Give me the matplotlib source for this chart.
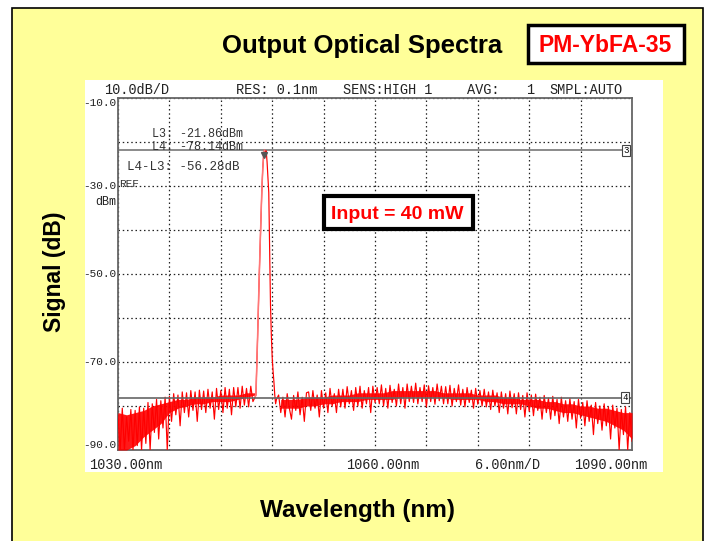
import numpy as np
import matplotlib
matplotlib.use("Agg")
import matplotlib.pyplot as plt
from matplotlib.patches import Rectangle

# =============================================================================
# DATA
# =============================================================================

# noise trace left of the signal peak, 1030.00 .. 1045.75 nm, 0.25 nm step
NOISE_LEFT_DB = [
    -82.0, -90.0, -80.5, -90.0, -82.5, -88.0, -80.8, -90.0, -81.0, -89.0, -80.2, -90.0,
    -80.5, -88.5, -79.2, -90.0, -79.5, -86.0, -78.5, -87.5, -78.8, -85.0, -78.0, -90.0,
    -77.8, -83.5, -77.2, -82.0, -77.5, -84.5, -76.8, -81.5, -77.0, -82.5, -76.5, -81.0, -76.8, -83.5, -76.4, -80.8,
    -76.6, -81.5, -76.2, -80.5, -76.8, -83.0, -76.0, -80.8, -76.5, -81.5, -75.8, -80.5, -76.2, -82.0, -75.8, -80.2,
    -75.8, -80.5, -75.5, -79.8, -76.0, -80.2, -75.5, -79.0,
]

# the signal line itself
PEAK_NM = [1046.0, 1046.1, 1046.2, 1046.3, 1046.4, 1046.5, 1046.6, 1046.7, 1046.8, 1046.9,
           1047.0, 1047.1, 1047.2, 1047.3, 1047.4, 1047.5, 1047.6, 1047.7, 1047.8, 1047.9,
           1048.0, 1048.1, 1048.2, 1048.3, 1048.4, 1048.5]
PEAK_DB = [-78.0, -77.5, -71.0, -64.0, -56.5, -49.5, -43.0, -36.5, -30.5, -26.0,
           -23.0, -21.86, -22.3, -22.0, -24.5, -28.0, -31.5, -45.0, -57.0, -64.0,
           -69.0, -72.0, -74.5, -77.5, -79.5, -78.5]

# noise trace right of the peak, 1048.75 .. 1090.00 nm, 0.25 nm step
NOISE_RIGHT_DB = [
    -77.5, -81.5, -78.0, -82.5, -77.2, -80.5, -83.0, -77.6, -81.0, -76.8, -82.0, -78.0, -83.5, -77.0,
    -76.8, -81.0, -76.5, -80.5, -77.5, -82.5, -76.5, -80.5, -77.0, -81.5, -76.0, -80.0, -77.2, -81.5, -76.2, -80.2,
    -76.2, -80.5, -75.6, -79.5, -76.5, -81.0, -75.8, -80.0, -75.5, -80.5, -76.5, -79.5, -75.8, -81.5, -75.5, -79.2,
    -75.8, -79.5, -75.2, -80.0, -76.0, -80.5, -75.3, -79.2, -76.2, -80.0, -75.0, -79.5, -75.8, -80.5, -75.0, -79.0,
    -75.5, -79.2, -74.8, -79.5, -75.8, -79.0, -75.2, -80.2, -75.4, -79.0, -75.8, -79.6, -75.0, -78.8, -75.5, -79.5,
    -75.6, -79.5, -75.3, -80.0, -76.0, -79.0, -75.2, -79.8, -76.2, -80.2, -75.8, -79.2, -76.4, -80.5, -76.0, -79.6,
    -76.5, -80.0, -76.2, -80.2, -76.8, -80.8, -76.4, -80.0, -77.0, -81.5, -76.8, -80.5, -77.2, -81.8, -76.6, -80.4,
    -77.2, -81.8, -77.0, -80.8, -77.6, -82.5, -77.0, -81.2, -77.5, -82.2, -77.3, -81.0, -78.0, -83.0, -77.6, -81.5,
    -78.2, -83.0, -77.8, -82.2, -78.5, -84.0, -78.0, -82.5, -78.8, -83.5, -78.3, -83.0, -79.0, -85.0, -78.5, -82.8,
    -79.2, -84.5, -78.8, -83.5, -79.8, -86.5, -79.2, -84.0, -80.0, -85.5, -79.5, -84.5, -80.2, -87.5, -79.8, -85.0,
    -80.5, -90.0, -80.8, -86.5, -80.2, -90.0, -81.5, -88.0,
]

# body of the noise band (upper / lower edge), 1 nm step
BAND_LEFT_NM = list(range(1030, 1047))
BAND_LEFT_HI = [-81.5, -82.0, -81.5, -81.0, -80.0, -79.5, -79.0, -78.5, -78.5, -78.0,
                -78.0, -78.0, -77.5, -77.5, -77.5, -77.0, -77.0]
BAND_LEFT_LO = [-90.0, -90.0, -89.0, -87.0, -85.5, -84.0, -81.5, -80.5, -80.0, -79.5,
                -79.5, -79.0, -79.0, -79.0, -78.5, -78.0, -77.5]
BAND_RIGHT_NM = list(range(1049, 1091))
BAND_RIGHT_HI = [-78.5, -78.5, -78.5, -78.0, -78.0, -78.0, -77.5, -77.5, -77.5, -77.0,
                 -77.0, -77.0, -77.0, -76.5, -76.5, -76.5, -76.5, -76.5, -76.5, -77.0,
                 -77.0, -77.0, -77.0, -77.5, -77.5, -77.5, -78.0, -78.0, -78.5, -78.5,
                 -78.5, -79.0, -79.0, -79.5, -79.5, -80.0, -80.0, -80.5, -80.5, -81.0,
                 -81.5, -81.5]
BAND_RIGHT_LO = [-80.5, -80.5, -80.5, -80.0, -80.0, -79.5, -79.5, -79.0, -79.0, -79.0,
                 -78.5, -78.5, -78.5, -78.5, -78.0, -78.0, -78.0, -78.0, -78.0, -78.0,
                 -78.5, -78.5, -78.5, -78.5, -79.0, -79.0, -79.5, -79.5, -79.5, -80.0,
                 -80.5, -80.5, -81.0, -81.5, -81.5, -82.0, -82.5, -83.0, -83.5, -84.5,
                 -85.5, -87.5]

L3_DB = -21.86
L4_DB = -78.14
PEAK_AT = 1047.1

Y_LABELS = ["-10.0", "-30.0", "-50.0", "-70.0", "-90.0"]
Y_LABEL_VALS = [-10, -30, -50, -70, -90]
X_LABELS = ["1030.00nm", "1060.00nm", "6.00nm/D", "1090.00nm"]
X_LABEL_LEFT_PX = [88.6, 345.6, 475, 574]
HEADER = ["10.0dB/D", "RES: 0.1nm", "SENS:HIGH 1", "AVG:", "1", "SMPL:AUTO"]
HEADER_LEFT_PX = [104, 236, 343, 467, 526.5, 549]

# =============================================================================
# FIGURE
# =============================================================================

W, H = 704, 541
MONO = "Liberation Mono"
BOLD = "Liberation Sans"
YELLOW = "#ffff99"
RED = "#ff0000"


def fx(px):
    return px / W


def fy(py):
    return 1 - py / H


fig = plt.figure(figsize=(W / 100, H / 100), dpi=100)
fig.patch.set_facecolor("white")

# yellow slide background + white instrument screen
fig.add_artist(Rectangle((fx(12), -0.02), fx(691), fy(8) + 0.02, transform=fig.transFigure,
                         facecolor=YELLOW, edgecolor="black", lw=1.2, zorder=-10))
fig.add_artist(Rectangle((fx(84.6), fy(472)), fx(578.4), 392 / H, transform=fig.transFigure,
                         facecolor="white", edgecolor="none", zorder=-9))

ax = fig.add_axes([fx(118), fy(450), fx(514), 352 / H])
ax.set_facecolor("white")

ax.fill_between(BAND_LEFT_NM, BAND_LEFT_LO, BAND_LEFT_HI, color=RED, lw=0, alpha=0.9, zorder=3)
ax.fill_between(BAND_RIGHT_NM, BAND_RIGHT_LO, BAND_RIGHT_HI, color=RED, lw=0, alpha=0.9, zorder=3)

noise_left_nm = np.linspace(1030.0, 1045.75, len(NOISE_LEFT_DB))
noise_right_nm = np.linspace(1048.75, 1090.0, len(NOISE_RIGHT_DB))
wl = np.concatenate([noise_left_nm, PEAK_NM, noise_right_nm])
sig = np.concatenate([NOISE_LEFT_DB, PEAK_DB, NOISE_RIGHT_DB])

ax.plot(wl, sig, color=RED, lw=0.85, zorder=3)
ax.plot(PEAK_NM[:12], PEAK_DB[:12], color="#ff7777", lw=1.1, zorder=4)

# marker lines L3 / L4
ax.axhline(L3_DB, color="#777777", lw=1.2, zorder=2)
ax.axhline(L4_DB, color="#666666", lw=1.2, zorder=4)
ax.plot([PEAK_AT], [L3_DB - 1.0], marker="v", color="#555555", ms=5, zorder=5)

box = dict(boxstyle="square,pad=0.12", fc="white", ec="#444444", lw=0.8)
ax.text(1089.3, L3_DB, "3", fontsize=6.5, family=MONO, ha="center", va="center", bbox=box, zorder=6)
ax.text(1089.2, L4_DB, "4", fontsize=6.5, family=MONO, ha="center", va="center", bbox=box, zorder=6)

ax.set_xlim(1030, 1090)
ax.set_ylim(-90, -10)
ax.set_xticks(np.arange(1030, 1091, 6))
ax.set_yticks(np.arange(-90, -9, 10))
ax.set_xticklabels([])
ax.set_yticklabels([])
ax.tick_params(length=0)
ax.grid(True, color="#222222", linestyle=(0, (1.2, 2.2)), lw=0.9)
for sp in ax.spines.values():
    sp.set_color("#666666")
    sp.set_linewidth(1.3)

# y tick labels of the OSA screen
ytr = ax.get_yaxis_transform()
for lab, v in zip(Y_LABELS, Y_LABEL_VALS):
    va = "top" if v == -10 else ("bottom" if v == -90 else "center")
    ax.text(-0.003, v, lab, transform=ytr, ha="right", va=va, fontsize=8, family=MONO, color="#222222")
ax.text(-0.003, -33.6, "dBm", transform=ytr, ha="right", va="center", fontsize=8.5, family=MONO, color="#222222")
ax.text(0.003, -29.6, "REF", transform=ytr, ha="left", va="center", fontsize=8, family=MONO, color="#333333")

# marker readouts
fig.text(fx(151.7), fy(134), "L3: -21.86dBm", fontsize=8.5, family=MONO, color="#333333", va="center")
fig.text(fx(151.7), fy(147), "L4: -78.14dBm", fontsize=8.5, family=MONO, color="#333333", va="center")
fig.text(fx(127), fy(166.5), "L4-L3: -56.28dB", fontsize=9, family=MONO, color="#333333", va="center")

for lab, px in zip(HEADER, HEADER_LEFT_PX):
    fig.text(fx(px), fy(93.8), lab, fontsize=9.8, family=MONO, color="#222222", va="baseline")
for lab, px in zip(X_LABELS, X_LABEL_LEFT_PX):
    fig.text(fx(px), fy(469), lab, fontsize=9.8, family=MONO, color="#222222", va="baseline")

# slide titles
fig.text(fx(362.5), fy(53.5), "Output Optical Spectra", fontsize=18.5, family=BOLD,
         weight="bold", ha="center", va="baseline")
fig.add_artist(Rectangle((fx(527.5), fy(63)), fx(156.5), 38 / H, transform=fig.transFigure,
                         facecolor="white", edgecolor="black", lw=2.5, zorder=5))
fig.text(fx(605), fy(51.7), "PM-YbFA-35", fontsize=16.5, family=BOLD, weight="bold",
         color=RED, ha="center", va="baseline", zorder=6)

fig.add_artist(Rectangle((fx(324), fy(229)), fx(148.5), 33.5 / H, transform=fig.transFigure,
                         facecolor="white", edgecolor="black", lw=3, zorder=5))
fig.text(fx(397.5), fy(219), "Input = 40 mW", fontsize=14, family=BOLD, weight="bold",
         color=RED, ha="center", va="baseline", zorder=6)

fig.text(fx(54), fy(272), "Signal (dB)", fontsize=16.5, family=BOLD, weight="bold",
         rotation=90, ha="center", va="center")
fig.text(fx(357.5), fy(517), "Wavelength (nm)", fontsize=17.5, family=BOLD, weight="bold",
         ha="center", va="baseline")

fig.savefig("out.png", dpi=100)
